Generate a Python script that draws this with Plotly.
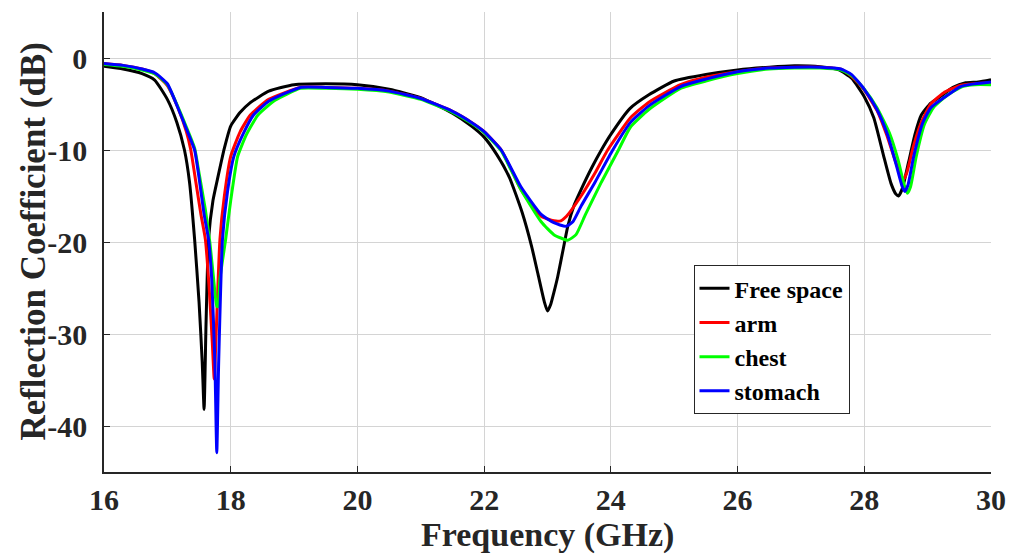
import plotly.graph_objects as go

# Free space
fs_x = [16, 16.3, 16.6, 16.8, 17.0, 17.15, 17.27, 17.35, 17.43, 17.5, 17.55, 17.58, 17.61, 17.65,
        17.72, 17.79, 17.9, 18.0, 18.15, 18.3, 18.6, 19.0, 19.5, 20.0, 20.5, 21.0, 21.5, 21.8, 22.0,
        22.2, 22.4, 22.6, 22.75, 22.85, 22.95, 23.0, 23.05, 23.1, 23.16, 23.25, 23.32, 23.42, 23.53,
        23.7, 23.85, 24.0, 24.3, 24.6, 25.0, 25.5, 26.0, 26.5, 26.9, 27.3, 27.6, 27.8, 28.0, 28.15,
        28.3, 28.42, 28.5, 28.54, 28.6, 28.7, 28.8, 28.9, 29.05, 29.2, 29.4, 29.6, 29.8, 30.0]
fs_y = [-0.9, -1.2, -1.7, -2.4, -4.5, -7.0, -10.0, -13.5, -19.7, -26.5, -33, -38.2, -29, -19.7,
        -15.5, -13.2, -9.8, -7.4, -5.9, -4.9, -3.6, -2.9, -2.8, -2.9, -3.4, -4.3, -6.0, -7.4, -8.6,
        -10.5, -13.0, -16.8, -20.5, -23.5, -26.5, -27.5, -26.8, -25.5, -23.8, -20.7, -18.3, -16.0, -14.3,
        -11.9, -10.0, -8.3, -5.5, -4.0, -2.5, -1.8, -1.3, -1.0, -0.85, -0.95, -1.3, -2.2, -4.2, -6.5,
        -10.5, -13.6, -14.8, -15.0, -14.2, -11.3, -8.3, -6.2, -4.9, -4.2, -3.2, -2.7, -2.6, -2.35]

# arm
arm_x = [16, 16.3, 16.6, 16.8, 17.0, 17.16, 17.3, 17.37, 17.45, 17.53, 17.6, 17.66, 17.71, 17.74,
         17.77, 17.83, 17.9, 18.0, 18.15, 18.31, 18.6, 19.1, 19.5, 20.0, 20.5, 21.0, 21.5, 21.8, 22.0,
         22.27, 22.42, 22.58, 22.9, 23.1, 23.21, 23.3, 23.53, 23.75, 23.95, 24.31, 24.6, 25.1, 25.5, 26.0,
         26.5, 26.9, 27.3, 27.63, 27.8, 28.0, 28.2, 28.35, 28.48, 28.58, 28.62, 28.67, 28.78, 28.9,
         29.05, 29.25, 29.5, 29.75, 30]
arm_y = [-0.6, -0.8, -1.2, -1.7, -3.0, -5.3, -8.0, -10.0, -13.5, -17.0, -19.7, -25, -31, -34.9,
         -30, -19.7, -15.0, -10.7, -8.0, -6.2, -4.5, -3.2, -3.2, -3.3, -3.6, -4.4, -5.8, -7.0, -8.0,
         -10.0, -12.0, -14.3, -17.2, -17.7, -17.7, -17.2, -15.0, -12.5, -10.0, -6.5, -4.8, -2.9, -2.1, -1.5,
         -1.1, -1.0, -1.0, -1.2, -2.0, -3.5, -5.7, -8.3, -11.0, -12.9, -13.2, -12.5, -9.5, -7.0,
         -5.0, -3.8, -3.0, -2.8, -2.7]

# chest
chest_x = [16, 16.3, 16.6, 16.8, 17.0, 17.16, 17.3, 17.43, 17.5, 17.6, 17.67, 17.73, 17.78, 17.8,
           17.83, 17.92, 18.0, 18.11, 18.25, 18.43, 18.7, 19.1, 19.5, 20, 20.5, 21, 21.5, 21.8, 22.0,
           22.27, 22.42, 22.58, 22.9, 23.1, 23.32, 23.45, 23.6, 23.85, 24.12, 24.31, 24.6, 25.1, 25.5, 26.0,
           26.5, 26.9, 27.3, 27.63, 27.8, 28.0, 28.2, 28.4, 28.53, 28.63, 28.68, 28.73, 28.82, 28.95,
           29.1, 29.3, 29.55, 29.75, 30]
chest_y = [-0.7, -0.9, -1.3, -1.7, -2.9, -5.2, -7.5, -9.8, -12.5, -16.5, -20, -24, -27, -27,
           -24, -19.7, -15.5, -10.7, -8.3, -6.2, -4.6, -3.3, -3.3, -3.4, -3.7, -4.5, -5.9, -7.1, -8.1,
           -10.1, -12.1, -14.3, -17.8, -19.2, -19.8, -19.2, -17.0, -13.5, -10.0, -7.5, -5.6, -3.3, -2.5, -1.7,
           -1.2, -1.1, -1.1, -1.3, -1.9, -3.4, -5.4, -8.2, -11.0, -13.8, -14.7, -14.0, -10.7, -7.2,
           -5.3, -4.1, -3.1, -2.9, -2.9]

# stomach
stom_x = [16, 16.3, 16.6, 16.8, 17.0, 17.16, 17.3, 17.43, 17.5, 17.58, 17.65, 17.7, 17.75, 17.78,
          17.81, 17.87, 17.95, 18.05, 18.2, 18.36, 18.6, 19.1, 19.5, 20, 20.5, 21, 21.5, 21.8, 22.0,
          22.27, 22.42, 22.58, 22.9, 23.1, 23.29, 23.4, 23.53, 23.75, 24.03, 24.31, 24.6, 25.1, 25.5, 26.0,
          26.5, 26.9, 27.3, 27.63, 27.8, 28.0, 28.2, 28.37, 28.5, 28.6, 28.64, 28.69, 28.78, 28.92,
          29.05, 29.26, 29.52, 29.75, 30]
stom_y = [-0.6, -0.8, -1.2, -1.6, -2.8, -5.3, -7.7, -10.0, -13.0, -17.0, -19.7, -24, -33, -42.9,
          -33, -19.7, -14.5, -10.7, -8.2, -6.2, -4.7, -3.2, -3.2, -3.3, -3.6, -4.4, -5.8, -7.0, -8.0,
          -10.0, -11.9, -14.0, -17.0, -17.9, -18.3, -17.8, -16.1, -13.5, -10.0, -7.0, -5.2, -3.1, -2.3, -1.5,
          -1.1, -1.0, -1.0, -1.2, -1.8, -3.4, -5.6, -8.4, -11.5, -14.0, -14.5, -13.8, -10.7, -7.1,
          -5.4, -4.3, -3.1, -2.8, -2.6]

series_names = ["Free space", "arm", "chest", "stomach"]
series_colors = ["#000000", "#ff0000", "#00ff00", "#0000ff"]
x_ticks = [16, 18, 20, 22, 24, 26, 28, 30]
y_ticks = [0, -10, -20, -30, -40]
x_title = "Frequency (GHz)"
y_title = "Reflection Coefficient (dB)"

FONT = "Liberation Serif"
TXT = "#262626"


def fmt(v):
    return "<b>" + str(v) + "</b>"


fig = go.Figure()
for name, color, xs, ys in zip(series_names, series_colors,
                               [fs_x, arm_x, chest_x, stom_x],
                               [fs_y, arm_y, chest_y, stom_y]):
    fig.add_trace(go.Scatter(x=xs, y=ys, mode="lines", name=name,
                             line=dict(color=color, width=3, shape="spline", smoothing=0.5)))

fig.update_layout(
    width=1019, height=558,
    margin=dict(l=104, r=28, t=12, b=86),
    paper_bgcolor="white", plot_bgcolor="white",
    font=dict(family=FONT, color=TXT),
    showlegend=True,
    legend=dict(x=0.6646, y=0.4497, xanchor="left", yanchor="top",
                bgcolor="white", bordercolor="#262626", borderwidth=1,
                font=dict(family=FONT, size=24, color="#000000", weight="bold"),
                tracegroupgap=0, itemwidth=30),
    annotations=[
        dict(text="<b>" + x_title + "</b>", xref="paper", yref="paper",
             x=0.5, y=-0.138, xanchor="center", yanchor="middle", showarrow=False,
             font=dict(family=FONT, size=34, color=TXT)),
        dict(text="<b>" + y_title + "</b>", xref="paper", yref="paper",
             x=-0.0805, y=0.5, xanchor="center", yanchor="middle", showarrow=False,
             textangle=-90, font=dict(family=FONT, size=35, color=TXT)),
    ],
)
fig.update_xaxes(
    range=[16, 30], tickvals=x_ticks, ticktext=[fmt(v) for v in x_ticks],
    showgrid=True, gridcolor="#d4d4d4", gridwidth=1,
    showline=True, linecolor="#262626", linewidth=1.5, mirror=False,
    ticks="inside", ticklen=6, tickcolor="#262626",
    tickfont=dict(family=FONT, size=30, color=TXT),
    ticklabelstandoff=0,
    zeroline=False, automargin=False,
)
fig.update_yaxes(
    range=[-45, 5], tickvals=y_ticks, ticktext=[fmt(v) for v in y_ticks],
    showgrid=True, gridcolor="#d4d4d4", gridwidth=1,
    showline=True, linecolor="#262626", linewidth=1.5, mirror=False,
    ticks="inside", ticklen=6, tickcolor="#262626",
    tickfont=dict(family=FONT, size=30, color=TXT),
    ticklabelstandoff=9,
    zeroline=False, automargin=False,
)

fig.write_html("out.html", config={"displayModeBar": False},
               post_script="document.body.style.margin='0px';document.body.style.overflow='hidden';")
